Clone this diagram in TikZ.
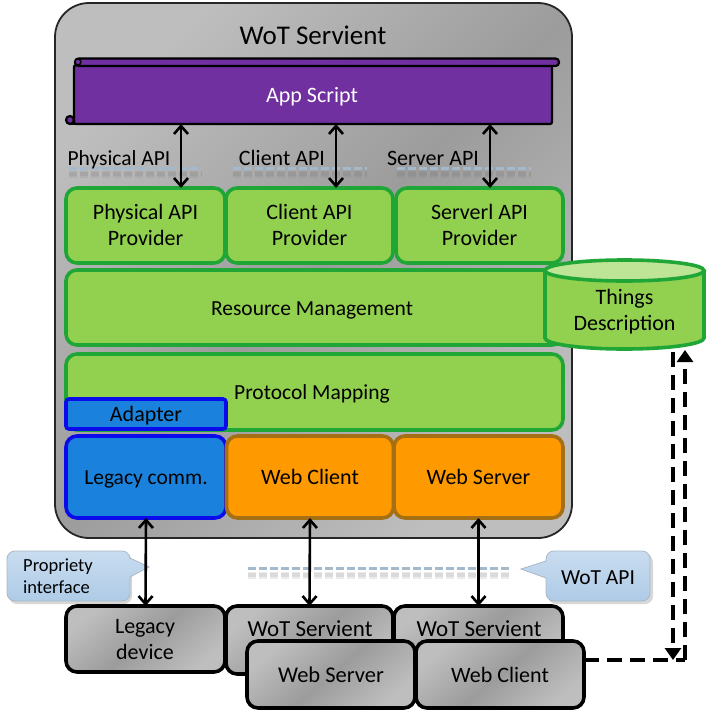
\documentclass[tikz,border=0pt]{standalone}
\usepackage{fontspec}
\setmainfont{Carlito}
\usetikzlibrary{arrows.meta,calc}
\definecolor{gfill}{HTML}{92D14F}
\definecolor{gline}{HTML}{1FA637}
\definecolor{pfill}{HTML}{7030A0}
\definecolor{bfill}{HTML}{1A82DC}
\definecolor{bline}{HTML}{0A0AEB}
\definecolor{ofill}{HTML}{FF9900}
\definecolor{oline}{HTML}{A56F14}
\definecolor{ctop}{HTML}{BEE496}
\definecolor{dashc}{HTML}{A3B9CE}
\definecolor{glight}{HTML}{BEBEBE}
\definecolor{gdark}{HTML}{9C9C9C}
\definecolor{ctopb}{HTML}{C9DCF0}
\definecolor{cbotb}{HTML}{AECBE6}
\tikzset{
  x=1pt,y=-1pt,
  txt/.style={font=\fontsize{22}{26}\selectfont,align=center,text=black},
  one/.style={text height=15pt,text depth=0pt},
  boxbase/.style={txt,inner sep=0pt,outer sep=0pt,rounded corners=11pt},
  greenbox/.style={boxbase,draw=gline,fill=gfill,line width=3.6pt},
  bluebox/.style={boxbase,draw=bline,fill=bfill,line width=3.6pt},
  orangebox/.style={boxbase,draw=oline,fill=ofill,line width=3.6pt},
  graybox/.style={boxbase,draw=black,line width=3.6pt,top color=glight,bottom color=glight,middle color=gdark,shading angle=40},
  bi/.style={{Straight Barb[length=8pt,width=14pt,line width=2.6pt]}-{Straight Barb[length=8pt,width=14pt,line width=2.6pt]},line width=2.6pt,black},
  apidash/.style={dashc,line width=3pt,dash pattern=on 8pt off 3pt},
  apishadow/.style={black!55,line width=#1,dash pattern=on 8pt off 3pt,opacity=.14},
  tddash/.style={black,line width=3.8pt,dash pattern=on 15pt off 8pt},
  tdtip/.style={-{Triangle[length=12pt,width=16pt]}},
  calloutfill/.style={top color=ctopb,bottom color=cbotb,draw=ctopb!80!black!90,line width=.8pt,rounded corners=8pt},
}
\begin{document}
\begin{tikzpicture}
\useasboundingbox (0,0) rectangle (707,720);
% outer servient
\node[boxbase,draw=black!85,line width=1.8pt,rounded corners=34pt,minimum width=517pt,minimum height=535pt,
  top color=glight,bottom color=glight,middle color=gdark,shading angle=45] (outer) at (313.5,270.5) {};
\node[txt,one,font=\fontsize{27}{30}\selectfont] (title) at (313,37) {WoT Servient};
% script
\node[draw=black,fill=pfill,line width=2.2pt,rounded corners=2pt,inner sep=0pt,outer sep=0pt,minimum width=478pt,minimum height=59pt] (script) at (313,94.5) {};
\node[txt,one,text=white] (scriptlabel) at (312,95) {App Script};
\draw[black,fill=pfill,line width=2.2pt,rounded corners=3.5pt] (75,58.5) rectangle (559,66);
\draw[black,fill=pfill,line width=1.4pt] (78,62) circle (3pt);
\draw[black,fill=pfill,line width=2.2pt] (70,120) circle (4pt);
\draw[black,line width=2.2pt] (70,124) -- (76,124);
% API dashes
\foreach \a/\b in {69/202,233/367,397/531}{
  \draw[apishadow=7pt] (\a,174) -- (\b,174);
  \draw[apishadow=4pt] (\a,174) -- (\b,174);
  \draw[apidash] (\a,168) -- (\b,168);
}
\node[txt,one,font=\fontsize{21.5}{26}\selectfont] (lphys) at (119,158) {Physical API};
\node[txt,one] (lcli) at (282,158) {Client API};
\node[txt,one] (lsrv) at (433,158) {Server API};
% provider row
\node[greenbox,minimum width=159pt,minimum height=75pt] (pphys) at (145.5,225.5) {};
\node[txt] (pphysl) at (145.5,224.5) {Physical API\\Provider};
\node[greenbox,minimum width=167pt,minimum height=75pt] (pcli) at (309.5,225.5) {};
\node[txt] (pclil) at (309.5,224.5) {Client API\\Provider};
\node[greenbox,minimum width=167pt,minimum height=75pt] (psrv) at (479.5,225.5) {};
\node[txt] (psrvl) at (479.5,224.5) {Serverl API\\Provider};
\draw[bi] (181,0 |- script.south) -- (181,0 |- pphys.north);
\draw[bi] (336,0 |- script.south) -- (336,0 |- pcli.north);
\draw[bi] (490,0 |- script.south) -- (490,0 |- psrv.north);
% management
\node[greenbox,minimum width=497pt,minimum height=75pt] (res) at (314.5,307.5) {};
\node[txt,one,font=\fontsize{21.5}{26}\selectfont] (reslabel) at (312,308) {Resource Management};
\node[greenbox,minimum width=497pt,minimum height=76pt] (pm) at (314.5,392) {};
\node[txt,one,font=\fontsize{21.5}{26}\selectfont] (pmlabel) at (312,392) {Protocol Mapping};
\node[bluebox,one,rounded corners=3pt,minimum width=160pt,minimum height=30pt] (adapter) at (146,414) {Adapter};
% comm row
\node[bluebox,one,font=\fontsize{21.5}{26}\selectfont,minimum width=160pt,minimum height=82pt] (legacy) at (146,477) {Legacy comm.};
\node[orangebox,one,minimum width=167pt,minimum height=82pt] (wcli) at (310,477) {Web Client};
\node[orangebox,one,minimum width=169pt,minimum height=82pt] (wsrv) at (478.5,477) {Web Server};
% cylinder
\coordinate (tdbase) at (624.5,350);
\draw[gline,fill=gfill,line width=3.6pt] (545,271) -- (545,338) arc[start angle=180,end angle=360,x radius=79.5pt,y radius=11pt] -- (704,271);
\draw[gline,fill=ctop,line width=3.6pt] (624.5,270.5) ellipse[x radius=79.5pt,y radius=10.5pt];
\node[txt] (td) at (624.5,311.5) {Things\\Description};
% lower callouts
\path[fill=black!35,opacity=.45,rounded corners=8pt] (9,554) -- (132,554) -- (132,604) -- (9,604) -- cycle;
\draw[calloutfill] (7,551) -- (130,551) [sharp corners] -- (130,558) -- (149,567) -- (130,577) [rounded corners=8pt] -- (130,601) -- (7,601) -- cycle;
\node[font=\fontsize{18.5}{22}\selectfont,align=left,text=black,anchor=west,inner sep=0pt] (cprop) at (23,576) {Propriety\\interface};
\path[fill=black!35,opacity=.45,rounded corners=8pt] (548,554) -- (653,554) -- (653,604) -- (548,604) -- cycle;
\draw[calloutfill] (546,551) -- (650,551) -- (650,601) -- (546,601) [sharp corners] -- (546,578) -- (521,569) -- (546,561) [rounded corners=8pt] -- cycle;
\node[txt,one,font=\fontsize{21.5}{24}\selectfont,inner sep=0pt] (cwot) at (598,577) {WoT API};
\draw[apishadow=7pt] (248,575) -- (510,575);
\draw[apishadow=4pt] (248,575) -- (510,575);
\draw[apidash] (248,568) -- (510,568);
% lower boxes
\node[graybox,minimum width=159pt,minimum height=66pt] (ldev) at (145.5,639) {};
\node[txt] (ldevl) at (145,639.5) {Legacy\\device};
\node[graybox,minimum width=167pt,minimum height=68pt] (s1) at (309.5,640) {};
\node[txt,one,font=\fontsize{23}{26}\selectfont] (s1l) at (310,629) {WoT Servient};
\node[graybox,minimum width=169pt,minimum height=60pt] (s2) at (478.5,636) {};
\node[txt,one,font=\fontsize{23}{26}\selectfont] (s2l) at (479,629) {WoT Servient};
\node[graybox,one,font=\fontsize{22.5}{26}\selectfont,minimum width=168pt,minimum height=67pt] (ws) at (331,674.5) {Web Server};
\node[graybox,one,minimum width=168pt,minimum height=67pt] (wc) at (500,674.5) {Web Client};
% connectors
\draw[bi] (legacy.south) -- (ldev.north);
\draw[bi] (wcli.south) -- (s1.north);
\draw[bi] (wsrv.south) -- (s2.north);
% things description links
\coordinate (wcexit) at (wc.east |- 0,660);
\coordinate (corner) at (685,660);
\draw[tddash] (wcexit) -- (corner);
\draw[tddash,tdtip] (corner) -- (685,0 |- tdbase);
\draw[tddash,tdtip] (673,0 |- tdbase) ++(0,2) -- (673,660);
\end{tikzpicture}
\end{document}
